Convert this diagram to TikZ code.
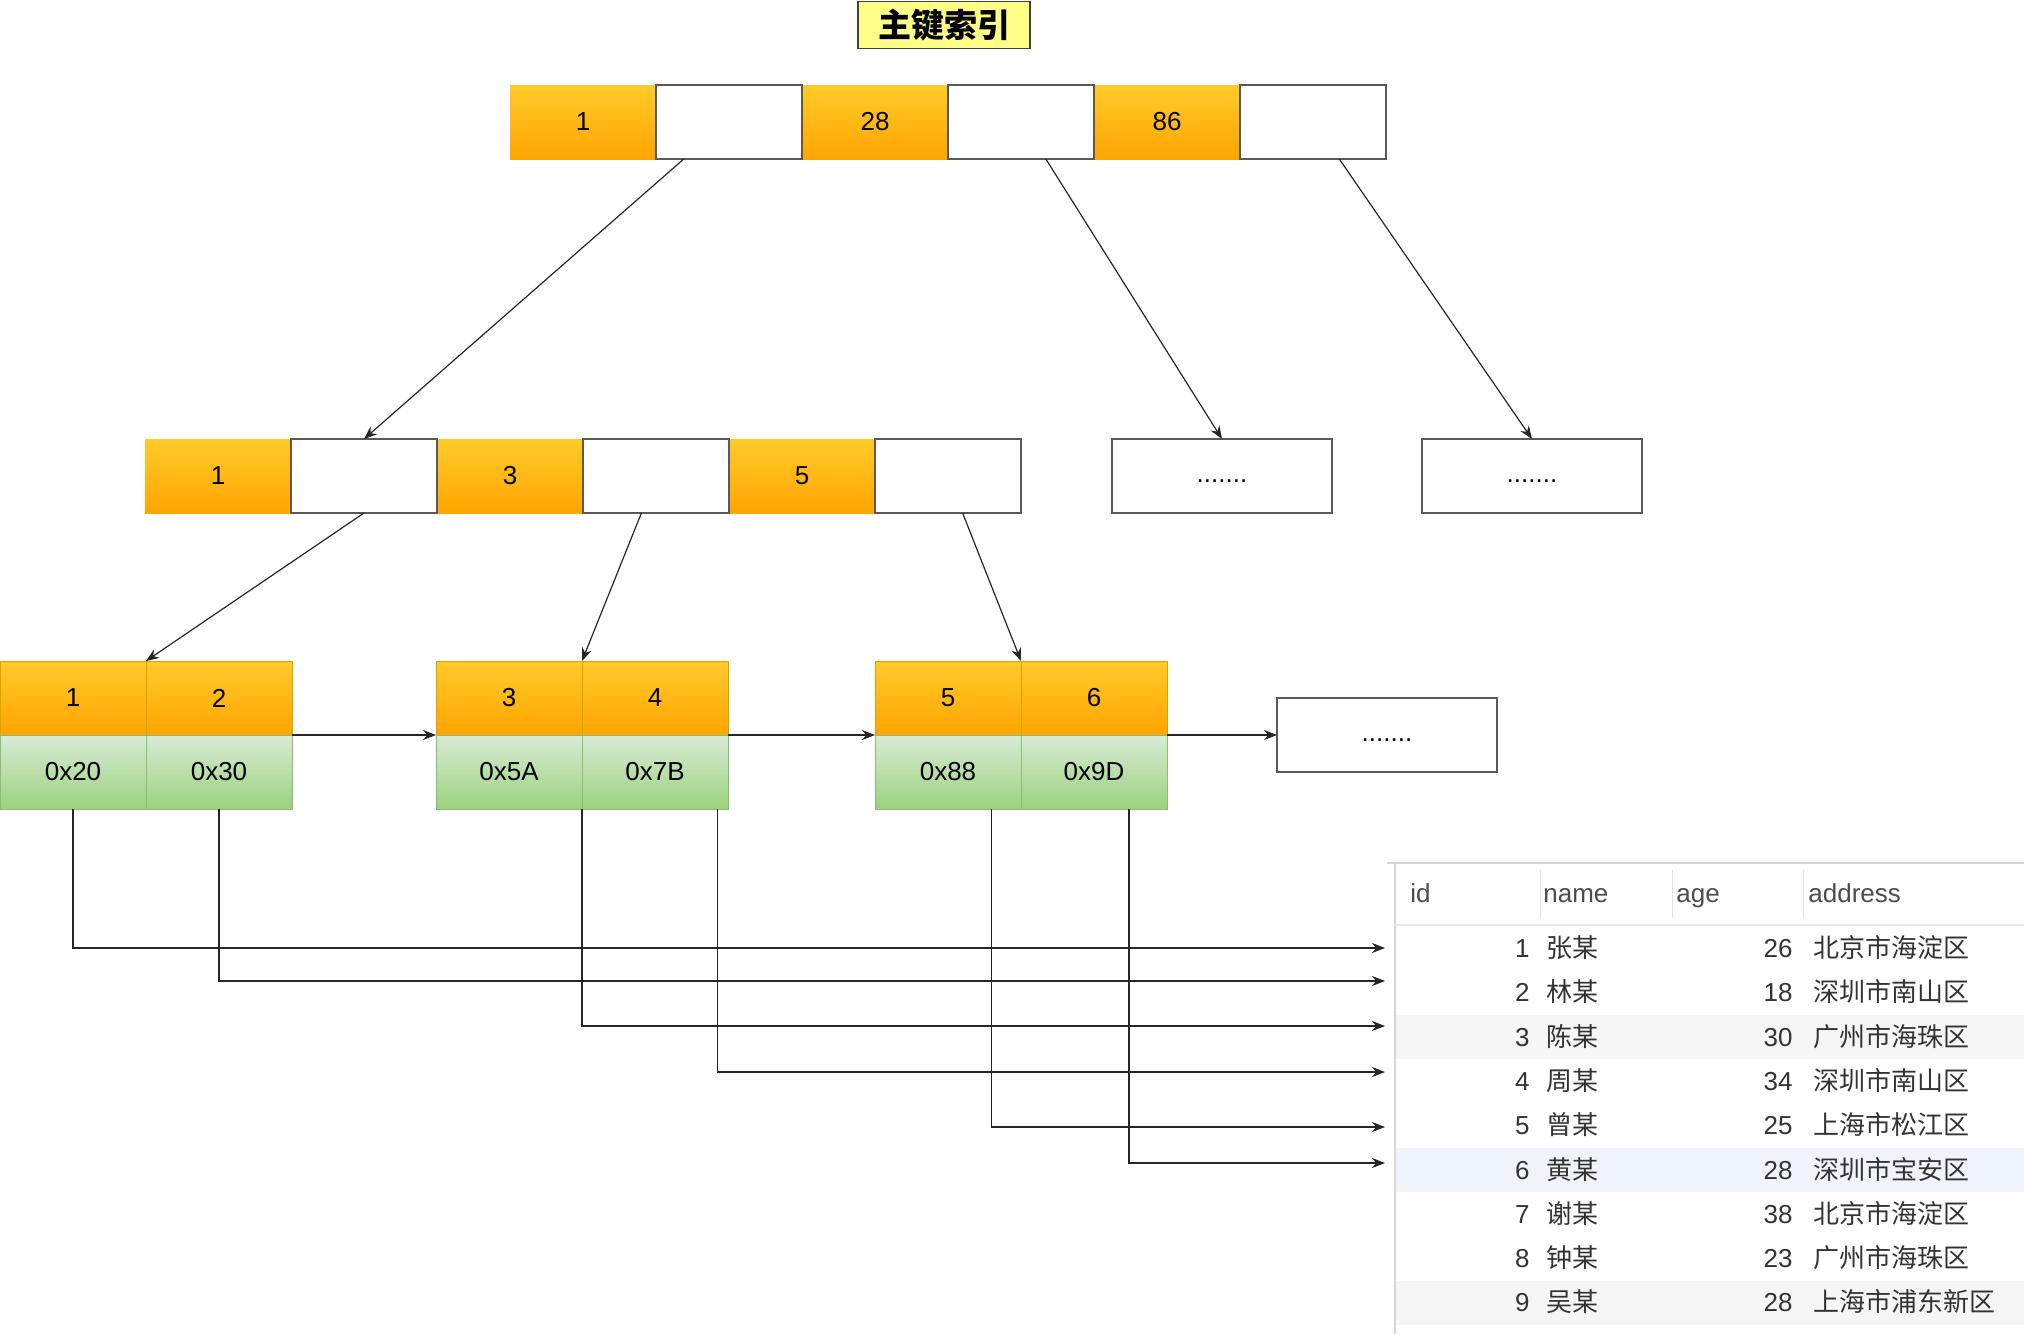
\documentclass[tikz,border=0pt]{standalone}
\usepackage{fontspec}
\setmainfont{Liberation Sans}
\newfontfamily\cjk{Noto Sans CJK SC}
\usetikzlibrary{arrows.meta,positioning,calc}
\definecolor{keytop}{HTML}{FFCB2A}
\definecolor{keybot}{HTML}{FFA500}
\definecolor{keyedge}{HTML}{D9A200}
\definecolor{addrtop}{HTML}{D8EBD6}
\definecolor{addrbot}{HTML}{9BD27C}
\definecolor{addredge}{HTML}{8DBA78}
\definecolor{titlefill}{HTML}{FFFF88}
\definecolor{tabline}{HTML}{D6D6D6}
\definecolor{tabtext}{HTML}{333333}
\definecolor{stripe}{HTML}{F6F6F6}
\definecolor{stripeblue}{HTML}{EEF4FA}
\tikzset{
  cell/.style     = {rectangle, minimum width=73pt, minimum height=37pt,
                     inner sep=0pt, outer sep=0pt, font=\fontsize{13}{15}\selectfont},
  keycell/.style  = {cell, top color=keytop, bottom color=keybot},
  leafkey/.style  = {keycell, draw=keyedge, line width=0.4pt},
  ptrcell/.style  = {cell, draw=black!65, fill=white, line width=0.8pt},
  addrcell/.style = {cell, top color=addrtop, bottom color=addrbot,
                     draw=addredge, line width=0.4pt},
  dotbox/.style   = {ptrcell, minimum width=110pt, text height=6.5pt, text depth=0pt},
  ar/.style       = {-{Stealth[length=6.5pt, width=5pt]}, draw=black!85, line width=0.6pt}
}

\begin{document}
\begin{tikzpicture}[
    x=0.5pt, y=-0.5pt,
    titlebox/.style={rectangle, draw=black!75, fill=titlefill, line width=0.8pt,
                     minimum width=86pt, minimum height=23.5pt, inner sep=0pt,
                     font=\fontsize{16.5}{18}\selectfont\cjk\bfseries},
    tabhead/.style={inner sep=0pt, text height=9.5pt, text depth=0pt,
                    font=\fontsize{13}{15}\selectfont, text=black!70},
    tabcell/.style={inner sep=0pt, text height=9.5pt, text depth=0pt,
                    font=\fontsize{13}{15}\selectfont, text=tabtext}
  ]
  \fill[white] (0,0) rectangle (2024,1334);
  \useasboundingbox (0,0) rectangle (2024,1334);

  % ===================== 标题 =====================
  \node[titlebox] (title) at (944,25) {主键索引};

  % ===================== 根节点 =====================
  \node[keycell, anchor=north west] (r1) at (510,85)  {1};
  \node[keycell, anchor=north west] (r3) at (802,85)  {28};
  \node[keycell, anchor=north west] (r5) at (1094,85) {86};
  \node[ptrcell, right=0pt of r1] (r2) {};
  \node[ptrcell, right=0pt of r3] (r4) {};
  \node[ptrcell, right=0pt of r5] (r6) {};

  % ===================== 第二层 =====================
  \node[keycell, anchor=north west] (m1) at (145,439) {1};
  \node[keycell, anchor=north west] (m3) at (437,439) {3};
  \node[keycell, anchor=north west] (m5) at (729,439) {5};
  \node[ptrcell, right=0pt of m1] (m2) {};
  \node[ptrcell, right=0pt of m3] (m4) {};
  \node[ptrcell, right=0pt of m5] (m6) {};
  \node[dotbox] (d1) at (1222,476) {.......};
  \node[dotbox] (d2) at (1532,476) {.......};

  % ===================== 叶子节点 =====================
  \node[leafkey, anchor=north west] (l1a) at (0,661) {1};
  \node[leafkey, right=0pt of l1a] (l1b) {2};
  \node[addrcell, below=0pt of l1a] (l1c) {0x20};
  \node[addrcell, below=0pt of l1b] (l1d) {0x30};

  \node[leafkey, anchor=north west] (l2a) at (436,661) {3};
  \node[leafkey, right=0pt of l2a] (l2b) {4};
  \node[addrcell, below=0pt of l2a] (l2c) {0x5A};
  \node[addrcell, below=0pt of l2b] (l2d) {0x7B};

  \node[leafkey, anchor=north west] (l3a) at (875,661) {5};
  \node[leafkey, right=0pt of l3a] (l3b) {6};
  \node[addrcell, below=0pt of l3a] (l3c) {0x88};
  \node[addrcell, below=0pt of l3b] (l3d) {0x9D};

  \node[dotbox] (d3) at (1387,735) {.......};

  % ===================== 箭头：树 =====================
  \draw[ar] ($(r2.south west)!0.19!(r2.south east)$) -- (m2.north);
  \draw[ar] ($(r4.south west)!0.67!(r4.south east)$) -- (d1.north);
  \draw[ar] ($(r6.south west)!0.68!(r6.south east)$) -- (d2.north);
  \draw[ar] (m2.south) -- (l1a.north east);
  \draw[ar] ($(m4.south west)!0.4!(m4.south east)$) -- (l2a.north east);
  \draw[ar] ($(m6.south west)!0.6!(m6.south east)$) -- (l3a.north east);
  \draw[ar] (l1b.south east) -- (l2a.south west);
  \draw[ar] (l2b.south east) -- (l3a.south west);
  \draw[ar] (l3b.south east) -- (d3.west);

  % ===================== 数据表 =====================
  \fill[stripe]     (1396,1015) rectangle (2024,1059);
  \fill[stripeblue] (1396,1148) rectangle (2024,1192);
  \fill[stripe]     (1396,1281) rectangle (2024,1325);
  \draw[tabline, line width=0.8pt] (1387,863) -- (2024,863);
  \draw[tabline, line width=0.8pt] (1395,863) -- (1395,1334);
  \draw[tabline!60, line width=0.6pt] (1395,925) -- (2024,925);
  \draw[tabline!70, line width=0.5pt] (1540,870) -- (1540,918)
                                      (1672,870) -- (1672,918)
                                      (1803,870) -- (1803,918);

  \node[tabhead, anchor=west] (hid)   at (1410,893) {id};
  \node[tabhead, anchor=west] (hname) at (1543,893) {name};
  \node[tabhead, anchor=west] (hage)  at (1676,893) {age};
  \node[tabhead, anchor=west] (haddr) at (1808,893) {address};

  \foreach \id/\nm/\ag/\ad [count=\i] in {
      1/张某/26/北京市海淀区, 2/林某/18/深圳市南山区, 3/陈某/30/广州市海珠区,
      4/周某/34/深圳市南山区, 5/曾某/25/上海市松江区, 6/黄某/28/深圳市宝安区,
      7/谢某/38/北京市海淀区, 8/钟某/23/广州市海珠区, 9/吴某/28/上海市浦东新区} {
    \node[tabcell, anchor=east] (id\i) at (1530,{948+44.3*(\i-1)}) {\id};
    \node[tabcell, anchor=west] (nm\i) at (1546,{948+44.3*(\i-1)}) {\cjk\nm};
    \node[tabcell, anchor=east] (ag\i) at (1793,{948+44.3*(\i-1)}) {\ag};
    \node[tabcell, anchor=west] (ad\i) at (1813,{948+44.3*(\i-1)}) {\cjk\ad};
  }

  % ===================== 箭头：叶子到数据行 =====================
  \coordinate (e1) at (1385,948);
  \coordinate (e2) at (1385,981);
  \coordinate (e3) at (1385,1026);
  \coordinate (e4) at (1385,1072);
  \coordinate (e5) at (1385,1127);
  \coordinate (e6) at (1385,1163);
  \draw[ar] (l1c.south) |- (e1);
  \draw[ar] (l1d.south) |- (e2);
  \draw[ar] (l2c.south east) |- (e3);
  \draw[ar] ($(l2d.south west)!0.93!(l2d.south east)$) |- (e4);
  \draw[ar] ($(l3c.south west)!0.80!(l3c.south east)$) |- (e5);
  \draw[ar] ($(l3d.south west)!0.74!(l3d.south east)$) |- (e6);
\end{tikzpicture}
\end{document}
